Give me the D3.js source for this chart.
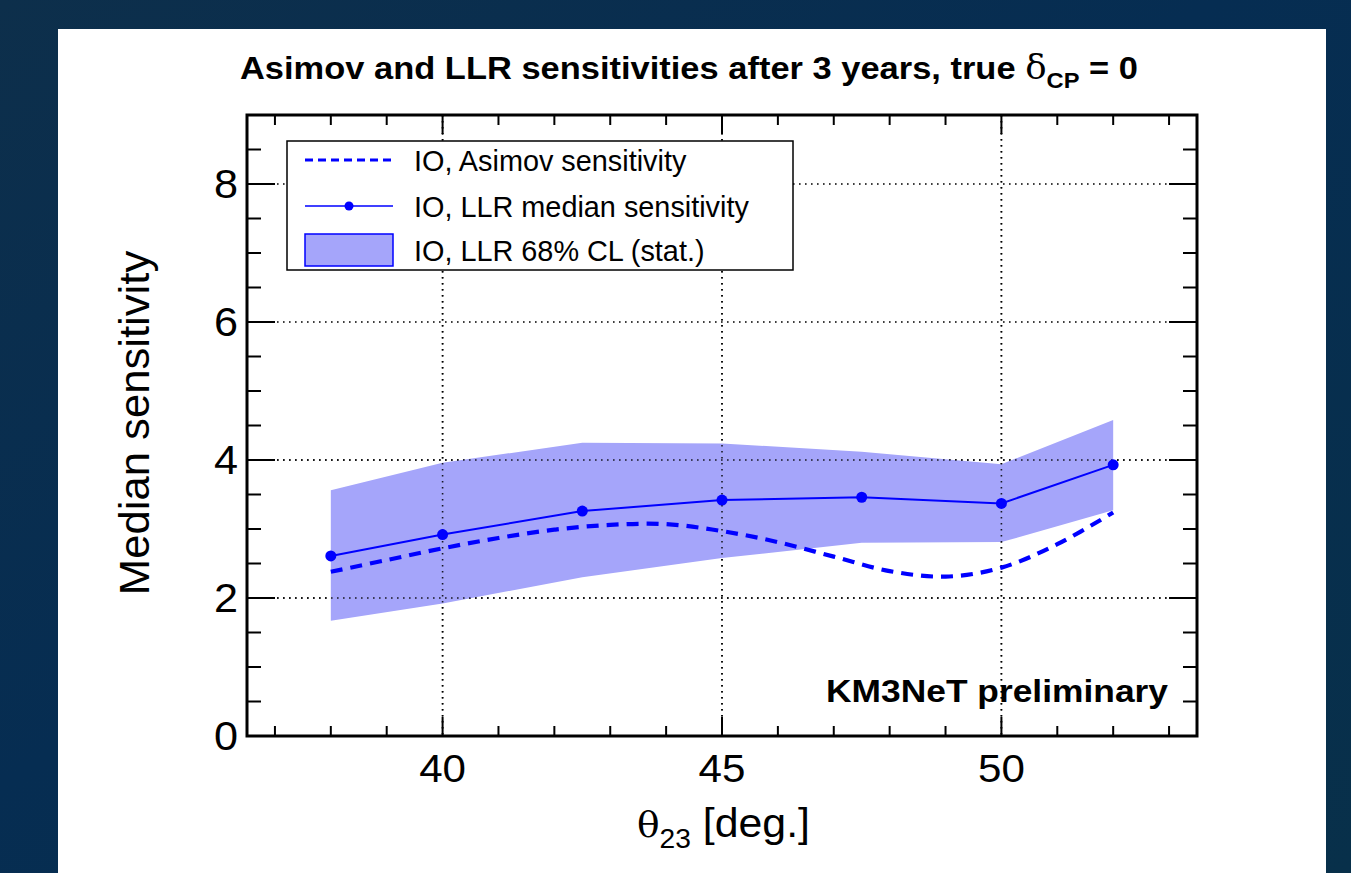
<!DOCTYPE html>
<html><head><meta charset="utf-8">
<script src="https://cdn.jsdelivr.net/npm/d3@7"></script>
<style>html,body{margin:0;padding:0;overflow:hidden;background:#0a2c48}</style>
</head><body>
<svg id="c" width="1351" height="873"></svg>
<script>
// ---- data ----
const thetaPoints = [38, 40, 42.5, 45, 47.5, 50, 52];
const llrMedian   = [2.61, 2.92, 3.26, 3.42, 3.46, 3.37, 3.93];
const bandUpper   = [3.56, 3.96, 4.25, 4.24, 4.12, 3.94, 4.58];
const bandLower   = [1.67, 1.92, 2.30, 2.58, 2.80, 2.81, 3.27];
const asimovTheta = [38, 39, 40, 41, 42, 43, 44, 45, 46, 47, 48, 49, 50, 51, 52];
const asimovSens  = [2.38, 2.55, 2.72, 2.87, 2.99, 3.06, 3.07, 2.97, 2.81, 2.60, 2.39, 2.31, 2.44, 2.78, 3.24];
const xTickLabels = [40, 45, 50];
const yTickLabels = [0, 2, 4, 6, 8];
const legendLabels = ["IO, Asimov sensitivity", "IO, LLR median sensitivity", "IO, LLR 68% CL (stat.)"];

const svg = d3.select("#c");
const W = 1351, H = 873;
const defs = svg.append("defs");
const g1 = defs.append("linearGradient").attr("id","bg").attr("x1","0").attr("y1","0").attr("x2","1").attr("y2","1");
g1.append("stop").attr("offset","0").attr("stop-color","#0d2f4b");
g1.append("stop").attr("offset","0.45").attr("stop-color","#062d52");
g1.append("stop").attr("offset","1").attr("stop-color","#08304a");
svg.append("rect").attr("width",W).attr("height",H).attr("fill","url(#bg)");
svg.append("rect").attr("x",58).attr("y",29).attr("width",1268).attr("height",H-29).attr("fill","#ffffff");

const L = 247, R = 1197, T = 115, B = 736;
const x = d3.scaleLinear().domain([36.5, 53.5]).range([L, R]);
const y = d3.scaleLinear().domain([0, 9]).range([B, T]);
const blue = "#0000ff";
const font = "'Liberation Sans', Arial, Helvetica, sans-serif";
const HS = 1.08; // horizontal stretch of the original picture

// stretch a text horizontally so its ink spans [x0, x1]
function fit(sel, x0, x1) {
  const bb = sel.node().getBBox();
  const sx = (x1 - x0) / bb.width;
  sel.attr("transform", `translate(${x0},0) scale(${sx},1) translate(${-bb.x},0)`);
}
function stretchAt(sel, ax) {
  sel.attr("transform", `translate(${ax},0) scale(${HS},1) translate(${-ax},0)`);
}

// grid
const grid = svg.append("g").attr("stroke","#000").attr("stroke-width",1.6).attr("stroke-dasharray","1.6,4.4");
xTickLabels.forEach(v => grid.append("line").attr("x1",x(v)).attr("x2",x(v)).attr("y1",T).attr("y2",B));
yTickLabels.filter(v=>v>0).forEach(v => grid.append("line").attr("x1",L).attr("x2",R).attr("y1",y(v)).attr("y2",y(v)));

// band
const area = d3.area().x((d,i)=>x(thetaPoints[i])).y0((d,i)=>y(bandLower[i])).y1((d,i)=>y(bandUpper[i]));
svg.append("path").datum(thetaPoints).attr("d",area).attr("fill","#a5a5fa").attr("stroke","none");

// grid visible over band
const grid2 = svg.append("g").attr("stroke","#000").attr("stroke-width",1.6).attr("stroke-dasharray","1.6,4.4").attr("opacity",0.85);
xTickLabels.forEach(v => grid2.append("line").attr("x1",x(v)).attr("x2",x(v)).attr("y1",T).attr("y2",B));
[2,4].forEach(v => grid2.append("line").attr("x1",L).attr("x2",R).attr("y1",y(v)).attr("y2",y(v)));

// asimov dashed
const aline = d3.line().x((d,i)=>x(asimovTheta[i])).y((d,i)=>y(asimovSens[i])).curve(d3.curveCatmullRom.alpha(0.5));
svg.append("path").datum(asimovTheta).attr("d",aline).attr("fill","none").attr("stroke",blue)
  .attr("stroke-width",4.2).attr("stroke-dasharray","12,8");

// LLR median
const mline = d3.line().x((d,i)=>x(thetaPoints[i])).y((d,i)=>y(llrMedian[i]));
svg.append("path").datum(thetaPoints).attr("d",mline).attr("fill","none").attr("stroke",blue).attr("stroke-width",2);
svg.append("g").selectAll("circle").data(thetaPoints).join("circle")
  .attr("cx",d=>x(d)).attr("cy",(d,i)=>y(llrMedian[i])).attr("r",5.5).attr("fill",blue);

// axes with ticks inside on all sides
const ax = svg.append("g").attr("stroke","#000");
d3.range(37, 54, 1).forEach(v => {
  const major = xTickLabels.includes(v);
  const len = major ? 19 : 10;
  ax.append("line").attr("x1",x(v)).attr("x2",x(v)).attr("y1",B).attr("y2",B-len).attr("stroke-width",2);
  ax.append("line").attr("x1",x(v)).attr("x2",x(v)).attr("y1",T).attr("y2",T+len).attr("stroke-width",2);
});
d3.range(0.5, 9, 0.5).forEach(v => {
  const major = yTickLabels.includes(v);
  const len = major ? 28 : 14;
  ax.append("line").attr("y1",y(v)).attr("y2",y(v)).attr("x1",L).attr("x2",L+len).attr("stroke-width",2);
  ax.append("line").attr("y1",y(v)).attr("y2",y(v)).attr("x1",R).attr("x2",R-len).attr("stroke-width",2);
});
svg.append("rect").attr("x",L).attr("y",T).attr("width",R-L).attr("height",B-T)
  .attr("fill","none").attr("stroke","#000").attr("stroke-width",3);

// tick labels
svg.append("g").selectAll("text").data(xTickLabels).join("text")
  .attr("x",d=>x(d)).attr("y",782).attr("text-anchor","middle")
  .attr("font-family",font).attr("font-size",39).attr("fill","#000").text(d=>d)
  .each(function(d){ stretchAt(d3.select(this), x(d)); });
svg.append("g").selectAll("text").data(yTickLabels).join("text")
  .attr("x",238).attr("y",d=>y(d)+14).attr("text-anchor","end")
  .attr("font-family",font).attr("font-size",40).attr("fill","#000").text(d=>d)
  .each(function(){ stretchAt(d3.select(this), 238); });

// axis titles
const xt = svg.append("text").attr("x",637).attr("y",837)
  .attr("font-family",font).attr("font-size",41).attr("fill","#000");
xt.append("tspan").attr("font-family","'DejaVu Serif','Liberation Serif',serif").attr("font-size",36).text("θ");
xt.append("tspan").attr("font-size",27).attr("dy",11).text("23");
xt.append("tspan").attr("dy",-11).text(" [deg.]");
fit(xt, 637, 810);

const yl = svg.append("text").attr("transform","translate(149,423) rotate(-90)").attr("text-anchor","middle")
  .attr("font-family",font).attr("font-size",43).attr("fill","#000").text("Median sensitivity");
{
  const bb = yl.node().getBBox();
  const s = 345 / bb.width;
  yl.attr("transform", `translate(149,423) rotate(-90) scale(${s},1)`);
}

// title
const tt = svg.append("text").attr("x",240).attr("y",79)
  .attr("font-family",font).attr("font-size",32).attr("font-weight","bold").attr("fill","#000");
tt.append("tspan").text("Asimov and LLR sensitivities after 3 years, true  ");
tt.append("tspan").attr("font-family","'DejaVu Serif','Liberation Serif',serif").attr("font-weight","normal").attr("font-size",33).text("δ");
tt.append("tspan").attr("font-size",22).attr("dy",9).text("CP");
tt.append("tspan").attr("dy",-9).text(" = 0");
fit(tt, 240, 1138);

// KM3NeT
const km = svg.append("text").attr("x",826).attr("y",702)
  .attr("font-family",font).attr("font-size",31).attr("font-weight","bold").attr("fill","#000").text("KM3NeT preliminary");
fit(km, 826, 1169);

// legend
const lg = svg.append("g");
lg.append("rect").attr("x",287).attr("y",141).attr("width",506).attr("height",129)
  .attr("fill","#fff").attr("stroke","#000").attr("stroke-width",1.5);
const rowsY = [160, 206, 250];
lg.append("line").attr("x1",305).attr("x2",393).attr("y1",rowsY[0]).attr("y2",rowsY[0])
  .attr("stroke",blue).attr("stroke-width",3).attr("stroke-dasharray","8,5");
lg.append("line").attr("x1",305).attr("x2",393).attr("y1",rowsY[1]).attr("y2",rowsY[1])
  .attr("stroke",blue).attr("stroke-width",1.5);
lg.append("circle").attr("cx",349).attr("cy",rowsY[1]).attr("r",4.5).attr("fill",blue);
lg.append("rect").attr("x",305).attr("y",234).attr("width",88).attr("height",32)
  .attr("fill","#a5a5fa").attr("stroke",blue).attr("stroke-width",1.5);
const lt = lg.selectAll("text.l").data(legendLabels).join("text").attr("class","l")
  .attr("x",414).attr("y",(d,i)=>rowsY[i]+11).attr("font-family",font).attr("font-size",29).attr("fill","#000").text(d=>d);
{
  const bb = lt.nodes()[0].getBBox();
  const s = (687 - 414) / bb.width;
  lt.attr("transform", `translate(414,0) scale(${s},1) translate(-414,0)`);
}
</script>
</body></html>
